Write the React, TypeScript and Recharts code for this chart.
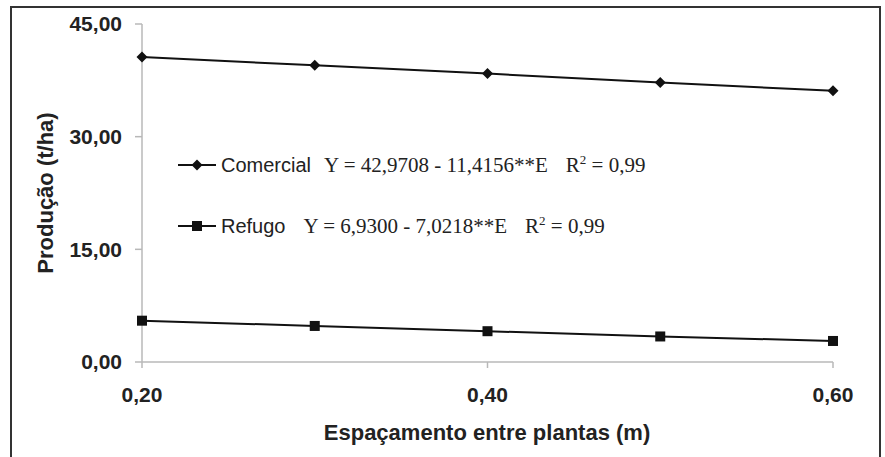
import { LineChart, Line, XAxis, YAxis, Legend, Label } from 'recharts';

const espacamento = [0.2, 0.3, 0.4, 0.5, 0.6];
const comercial = [40.6, 39.5, 38.4, 37.2, 36.1];
const refugo = [5.5, 4.8, 4.1, 3.4, 2.8];
const yTicks = [0, 15, 30, 45];
const xTicks = [0.2, 0.4, 0.6];

const series = [
  { key: 'comercial', name: 'Comercial', eq: 'Y = 42,9708 - 11,4156**E', r2: '0,99', marker: 'diamond' },
  { key: 'refugo', name: 'Refugo', eq: 'Y = 6,9300 - 7,0218**E', r2: '0,99', marker: 'square' },
];

const chartData = espacamento.map((e, i) => ({
  e,
  comercial: comercial[i],
  refugo: refugo[i],
}));

const fmt = (v: number) => v.toFixed(2).replace('.', ',');

const INK = '#111';
const TEXT = '#222';
const AXIS = '#b8b8b8';

const Diamond = (p: any) => {
  const { cx, cy, index } = p;
  const r = 5.5;
  return (
    <path
      key={`dia-${index}`}
      d={`M${cx} ${cy - r}L${cx + r} ${cy}L${cx} ${cy + r}L${cx - r} ${cy}Z`}
      fill={INK}
    />
  );
};

const Square = (p: any) => {
  const { cx, cy, index } = p;
  return <rect key={`sq-${index}`} x={cx - 5} y={cy - 5} width={10} height={10} fill={INK} />;
};

const LegendBox = () => (
  <div style={{ fontFamily: 'Liberation Sans, Arial, sans-serif', color: TEXT }}>
    {series.map((s, i) => (
      <div
        key={s.key}
        style={{ display: 'flex', alignItems: 'center', height: 30, marginBottom: i === 0 ? 31 : 0 }}
      >
        <svg width={38} height={14} style={{ marginRight: 5 }}>
          <line x1={0} y1={7} x2={38} y2={7} stroke={INK} strokeWidth={2} />
          {s.marker === 'diamond' ? (
            <path d="M19 1.5L24.5 7L19 12.5L13.5 7Z" fill={INK} />
          ) : (
            <rect x={14} y={2} width={10} height={10} fill={INK} />
          )}
        </svg>
        <span style={{ fontSize: 20, marginRight: i === 0 ? 13 : 18 }}>{s.name}</span>
        <span
          style={{
            fontFamily: 'Liberation Serif, Times New Roman, serif',
            fontSize: 21,
            marginRight: 18,
            whiteSpace: 'pre',
          }}
        >
          {s.eq}
        </span>
        <span style={{ fontFamily: 'Liberation Serif, Times New Roman, serif', fontSize: 21 }}>
          R<sup style={{ fontSize: 13 }}>2</sup> = {s.r2}
        </span>
      </div>
    ))}
  </div>
);

export default function App() {
  return (
    <div
      style={{
        position: 'absolute',
        left: 0,
        top: 0,
        width: 885,
        height: 457,
        overflow: 'hidden',
        background: '#fff',
      }}
    >
      <div
        style={{
          position: 'absolute',
          left: 10,
          top: 6,
          width: 867,
          height: 470,
          border: '2px solid #333',
        }}
      />
      <div style={{ position: 'absolute', left: 0, top: 0 }}>
        <LineChart
          width={885}
          height={457}
          data={chartData}
          margin={{ top: 24, right: 52, left: 0, bottom: 0 }}
        >
          <XAxis
            dataKey="e"
            type="number"
            domain={[0.2, 0.6]}
            ticks={xTicks}
            tickFormatter={fmt}
            height={95}
            stroke={AXIS}
            strokeWidth={1.5}
            tickSize={6}
            tickMargin={19}
            tick={{ fill: TEXT, fontSize: 21, fontWeight: 'bold', fontFamily: 'Liberation Sans, Arial' }}
          >
            <Label
              content={() => (
                <text
                  x={487}
                  y={440}
                  textAnchor="middle"
                  fill={TEXT}
                  fontSize={22}
                  fontWeight="bold"
                  fontFamily="Liberation Sans, Arial"
                >
                  Espaçamento entre plantas (m)
                </text>
              )}
            />
          </XAxis>
          <YAxis
            domain={[0, 45]}
            ticks={yTicks}
            tickFormatter={fmt}
            width={142}
            stroke={AXIS}
            strokeWidth={1.5}
            tickSize={7}
            tickMargin={13}
            tick={{ fill: TEXT, fontSize: 21, fontWeight: 'bold', fontFamily: 'Liberation Sans, Arial' }}
          >
            <Label
              content={() => (
                <text
                  x={53}
                  y={193}
                  transform="rotate(-90, 53, 193)"
                  textAnchor="middle"
                  fill={TEXT}
                  fontSize={22}
                  fontWeight="bold"
                  fontFamily="Liberation Sans, Arial"
                >
                  Produção (t/ha)
                </text>
              )}
            />
          </YAxis>
          <Legend
            layout="vertical"
            align="center"
            verticalAlign="middle"
            content={() => <LegendBox />}
            wrapperStyle={{ left: 178, top: 150, width: 620 }}
          />
          <Line
            type="linear"
            dataKey="comercial"
            name="Comercial"
            stroke={INK}
            strokeWidth={2}
            dot={Diamond}
            activeDot={false}
            isAnimationActive={false}
          />
          <Line
            type="linear"
            dataKey="refugo"
            name="Refugo"
            stroke={INK}
            strokeWidth={2}
            dot={Square}
            activeDot={false}
            isAnimationActive={false}
          />
        </LineChart>
      </div>
    </div>
  );
}
